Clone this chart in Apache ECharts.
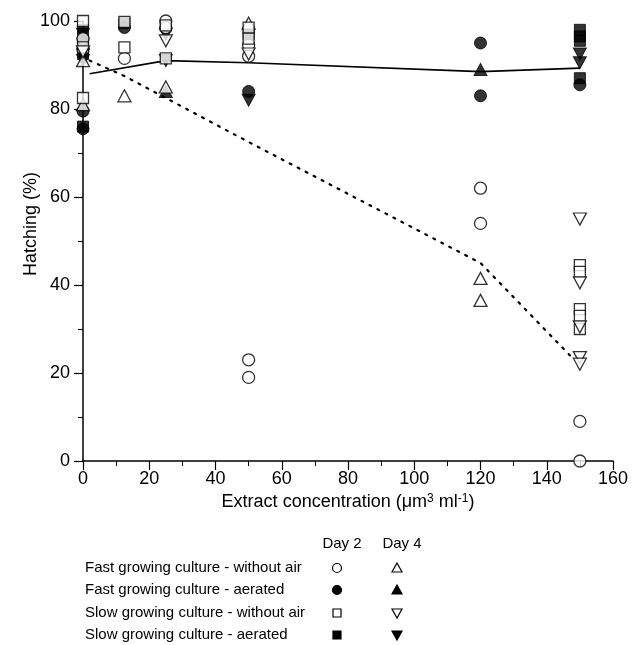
<!DOCTYPE html>
<html>
<head>
<meta charset="utf-8">
<script src="https://cdn.jsdelivr.net/npm/echarts@6/dist/echarts.min.js"></script>
<style>
  html, body { margin: 0; padding: 0; background: #fff; }
  #chart { width: 632px; height: 645px; }
</style>
</head>
<body>
<div id="chart"></div>
<script>
// Hatching (%) versus extract concentration, by culture type and day
const xTicks = [0, 20, 40, 60, 80, 100, 120, 140, 160];
const yTicks = [0, 20, 40, 60, 80, 100];

// Fast growing culture - without air
const fastNoAirDay2 = [[0, 96], [12.5, 91.5], [25, 100], [25, 98.5], [50, 94.5], [50, 92], [50, 23], [50, 19], [120, 62], [120, 54], [150, 9], [150, 0]];
const fastNoAirDay4 = [[0, 91], [0, 81], [12.5, 83], [25, 85], [50, 99.5], [120, 41.5], [120, 36.5]];
// Fast growing culture - aerated
const fastAirDay2 = [[0, 96], [0, 93.5], [0, 79.5], [0, 75.5], [12.5, 98.5], [50, 84], [120, 95], [120, 83], [150, 85.5]];
const fastAirDay4 = [[0, 95], [25, 84], [120, 89]];
// Slow growing culture - without air
const slowNoAirDay2 = [[0, 100], [0, 94], [0, 82.5], [12.5, 99.8], [12.5, 94], [25, 99], [25, 91.5], [50, 98.5], [50, 96], [150, 44.5], [150, 43], [150, 34.5], [150, 33], [150, 30]];
const slowNoAirDay4 = [[0, 93], [25, 95.5], [50, 92.5], [150, 55], [150, 40.5], [150, 30.5], [150, 23.5], [150, 22]];
// Slow growing culture - aerated
const slowAirDay2 = [[0, 98], [0, 95.5], [0, 92.5], [0, 76], [12.5, 99.5], [50, 97], [150, 98], [150, 96.5], [150, 95.5], [150, 87]];
const slowAirDay4 = [[0, 97], [0, 91], [25, 97], [25, 91], [50, 82], [150, 92.5], [150, 90.5]];

// Trend lines: aerated (solid) and without air (dotted)
const aeratedTrend = [[2, 88], [25, 91], [50, 90.5], [120, 88.5], [150, 89.3]];
const noAirTrend = [[2, 91], [12.5, 87.5], [25, 82.5], [50, 72.5], [120, 45], [147, 24]];

const legendRows = [
  'Fast growing culture - without air',
  'Fast growing culture - aerated',
  'Slow growing culture - without air',
  'Slow growing culture - aerated'
];
const dayLabels = ['Day 2', 'Day 4'];

const FONT = '"Liberation Sans", Arial, Helvetica, sans-serif';
const open = { color: '#fff', borderColor: '#000', borderWidth: 1.3 };
const filled = { color: '#000', borderColor: '#000', borderWidth: 1 };

function pts(name, data, symbol, style, size, rotate) {
  return {
    name: name, type: 'scatter', data: data,
    symbol: symbol, symbolSize: size, symbolRotate: rotate || 0,
    itemStyle: style, clip: false, z: 3,
    emphasis: { disabled: true }
  };
}

const series = [
  {
    type: 'line', data: aeratedTrend, showSymbol: false, symbol: 'none',
    lineStyle: { color: '#000', width: 1.6 }, z: 2, silent: true
  },
  {
    type: 'line', data: noAirTrend, showSymbol: false, symbol: 'none',
    lineStyle: { color: '#000', width: 2.2, type: [2, 7], cap: 'round' }, z: 2, silent: true
  },
  pts('fastAirDay2', fastAirDay2, 'circle', filled, 12),
  pts('fastAirDay4', fastAirDay4, 'triangle', filled, [13, 12]),
  pts('slowAirDay2', slowAirDay2, 'rect', filled, [11, 11]),
  pts('slowAirDay4', slowAirDay4, 'triangle', filled, [13, 12], 180),
  pts('fastNoAirDay2', fastNoAirDay2, 'circle', open, 12),
  pts('fastNoAirDay4', fastNoAirDay4, 'triangle', open, [13, 12]),
  pts('slowNoAirDay2', slowNoAirDay2, 'rect', open, [11, 11]),
  pts('slowNoAirDay4', slowNoAirDay4, 'triangle', open, [13, 12], 180)
];

// Legend table drawn as graphic elements
const graphics = [];
const rowY = [568, 590, 613, 635];
const colX = [337, 397];
graphics.push({
  type: 'text', x: 31, y: 224, rotation: Math.PI / 2,
  style: { text: 'Hatching (%)', font: '18px ' + FONT, fill: '#000', align: 'center', verticalAlign: 'middle' }
});
dayLabels.forEach(function (d, i) {
  graphics.push({
    type: 'text', x: colX[i] + 5, y: 544,
    style: { text: d, font: '15px ' + FONT, fill: '#000', align: 'center', verticalAlign: 'middle' }
  });
});
legendRows.forEach(function (t, i) {
  graphics.push({
    type: 'text', x: 85, y: rowY[i],
    style: { text: t, font: '15px ' + FONT, fill: '#000', align: 'left', verticalAlign: 'middle' }
  });
});
function legendSym(kind, fill, cx, cy) {
  const st = { fill: fill ? '#000' : '#fff', stroke: '#000', lineWidth: 1.2 };
  const r = 4.5;
  if (kind === 'circle') return { type: 'circle', shape: { cx: cx, cy: cy, r: r }, style: st };
  if (kind === 'rect') return { type: 'rect', shape: { x: cx - 4, y: cy - 4, width: 8, height: 8 }, style: st };
  if (kind === 'up') return { type: 'polygon', shape: { points: [[cx, cy - 5], [cx + 5, cy + 4], [cx - 5, cy + 4]] }, style: st };
  return { type: 'polygon', shape: { points: [[cx - 5, cy - 4], [cx + 5, cy - 4], [cx, cy + 5]] }, style: st };
}
graphics.push(legendSym('circle', false, colX[0], rowY[0]));
graphics.push(legendSym('up', false, colX[1], rowY[0]));
graphics.push(legendSym('circle', true, colX[0], rowY[1]));
graphics.push(legendSym('up', true, colX[1], rowY[1]));
graphics.push(legendSym('rect', false, colX[0], rowY[2]));
graphics.push(legendSym('down', false, colX[1], rowY[2]));
graphics.push(legendSym('rect', true, colX[0], rowY[3]));
graphics.push(legendSym('down', true, colX[1], rowY[3]));

const axisCommon = {
  axisLine: { show: true, lineStyle: { color: '#000', width: 1.5 } },
  axisTick: { show: true, length: 9, lineStyle: { color: '#000', width: 1.2 } },
  minorTick: { show: true, splitNumber: 2, length: 5, lineStyle: { color: '#000', width: 1 } },
  splitLine: { show: false },
  axisLabel: { color: '#000', fontFamily: FONT, fontSize: 18 }
};

const chart = echarts.init(document.getElementById('chart'), null, { renderer: 'canvas' });
chart.setOption({
  animation: false,
  backgroundColor: '#fff',
  grid: { left: 83, right: 19, top: 21, bottom: 184, containLabel: false },
  xAxis: Object.assign({}, axisCommon, {
    type: 'value', min: xTicks[0], max: xTicks[xTicks.length - 1], interval: 20,
    axisLabel: Object.assign({}, axisCommon.axisLabel, { margin: 9 }),
    name: 'Extract concentration (μm{sup|3} ml{sup|-1})',
    nameLocation: 'middle', nameGap: 22,
    nameTextStyle: {
      color: '#000', fontFamily: FONT, fontSize: 18, verticalAlign: 'top',
      rich: { sup: { fontSize: 12, fontFamily: FONT, color: '#000', verticalAlign: 'top', lineHeight: 12 } }
    }
  }),
  yAxis: Object.assign({}, axisCommon, {
    type: 'value', min: yTicks[0], max: yTicks[yTicks.length - 1], interval: 20,
    axisLabel: Object.assign({}, axisCommon.axisLabel, { margin: 13 })
  }),
  series: series,
  graphic: graphics
});
</script>
</body>
</html>
